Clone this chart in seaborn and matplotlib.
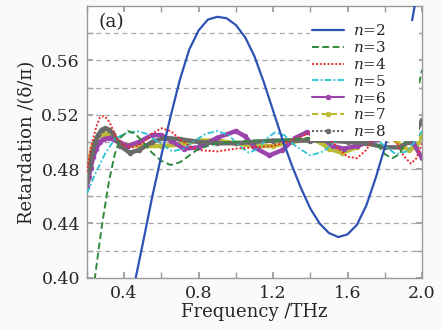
import numpy as np
import pandas as pd
import matplotlib
matplotlib.use("Agg")
import matplotlib.pyplot as plt
from matplotlib.lines import Line2D
import seaborn as sns

# ---------------- data ----------------
f2 = [0.40, 0.45, 0.50, 0.55, 0.60, 0.65, 0.70, 0.75, 0.80, 0.85, 0.90, 0.95, 1.00,
      1.05, 1.10, 1.15, 1.20, 1.25, 1.30, 1.35, 1.40, 1.45, 1.50, 1.55, 1.60, 1.65,
      1.70, 1.75, 1.80, 1.85, 1.90, 1.95, 2.00]
r2 = [0.360, 0.392, 0.425, 0.459, 0.490, 0.519, 0.546, 0.568, 0.582, 0.590, 0.592, 0.591, 0.586,
      0.577, 0.563, 0.544, 0.523, 0.502, 0.483, 0.466, 0.451, 0.440, 0.433, 0.430, 0.432, 0.439,
      0.453, 0.473, 0.496, 0.522, 0.555, 0.592, 0.630]

f3 = [0.20, 0.243, 0.28, 0.32, 0.35, 0.38, 0.42, 0.46, 0.50, 0.55, 0.60, 0.65, 0.70, 0.75,
      0.80, 0.90, 1.00, 1.10, 1.20, 1.30, 1.40, 1.50, 1.60, 1.65, 1.70, 1.75, 1.80, 1.84,
      1.88, 1.92, 1.95, 1.98, 2.00]
r3 = [0.355, 0.400, 0.438, 0.472, 0.491, 0.503, 0.508, 0.506, 0.500, 0.492, 0.486, 0.483, 0.485, 0.490,
      0.495, 0.499, 0.500, 0.501, 0.501, 0.502, 0.503, 0.507, 0.511, 0.512, 0.509, 0.500, 0.491, 0.488,
      0.491, 0.503, 0.519, 0.540, 0.553]

f4 = [0.20, 0.22, 0.25, 0.27, 0.29, 0.31, 0.33, 0.36, 0.40, 0.45, 0.50, 0.55, 0.60, 0.65, 0.70,
      0.75, 0.80, 0.90, 1.00, 1.10, 1.20, 1.30, 1.40, 1.45, 1.50, 1.55, 1.60, 1.65, 1.70,
      1.75, 1.80, 1.85, 1.90, 1.94, 1.97, 2.00]
r4 = [0.478, 0.495, 0.511, 0.518, 0.519, 0.517, 0.512, 0.503, 0.497, 0.496, 0.499, 0.506, 0.510, 0.508, 0.502,
      0.497, 0.494, 0.493, 0.495, 0.496, 0.497, 0.501, 0.507, 0.507, 0.503, 0.495, 0.489, 0.488, 0.494,
      0.505, 0.510, 0.503, 0.490, 0.484, 0.488, 0.499]

f5 = [0.20, 0.25, 0.30, 0.35, 0.40, 0.47, 0.52, 0.58, 0.66, 0.72, 0.78, 0.84, 0.90, 0.96,
      1.02, 1.07, 1.12, 1.17, 1.21, 1.26, 1.32, 1.40, 1.47, 1.54, 1.60, 1.67, 1.73, 1.79,
      1.86, 1.92, 1.96, 2.00]
r5 = [0.462, 0.478, 0.492, 0.502, 0.506, 0.508, 0.506, 0.500, 0.493, 0.495, 0.501, 0.506, 0.508, 0.505,
      0.497, 0.492, 0.495, 0.503, 0.507, 0.505, 0.497, 0.490, 0.493, 0.501, 0.506, 0.508, 0.505, 0.498,
      0.491, 0.493, 0.500, 0.508]

f6 = [0.20, 0.21, 0.22, 0.235, 0.25, 0.27, 0.29, 0.32, 0.37, 0.42, 0.48, 0.55, 0.60, 0.65, 0.72,
      0.80, 0.90, 1.00, 1.05, 1.10, 1.18, 1.25, 1.32, 1.38, 1.45, 1.52, 1.58, 1.65, 1.72,
      1.80, 1.90, 1.95, 2.00]
r6 = [0.467, 0.474, 0.481, 0.489, 0.495, 0.500, 0.502, 0.503, 0.500, 0.497, 0.500, 0.505, 0.505, 0.501, 0.495,
      0.496, 0.503, 0.508, 0.504, 0.496, 0.490, 0.494, 0.503, 0.507, 0.504, 0.497, 0.495, 0.497, 0.500,
      0.503, 0.503, 0.500, 0.488]

f7 = [0.20, 0.215, 0.23, 0.25, 0.27, 0.30, 0.35, 0.40, 0.50, 0.60, 0.70, 0.80, 0.90, 1.00, 1.10,
      1.20, 1.30, 1.40, 1.45, 1.50, 1.57, 1.65, 1.72, 1.78, 1.84, 1.90, 1.93, 1.97, 2.00]
r7 = [0.478, 0.488, 0.496, 0.502, 0.505, 0.506, 0.502, 0.498, 0.497, 0.497, 0.498, 0.501, 0.501, 0.499,
      0.497, 0.497, 0.500, 0.502, 0.500, 0.495, 0.492, 0.496, 0.503, 0.507, 0.503, 0.496, 0.494, 0.497,
      0.505]

f8 = [0.20, 0.215, 0.23, 0.245, 0.26, 0.28, 0.30, 0.32, 0.34, 0.38, 0.43, 0.48, 0.55, 0.62, 0.70,
      0.80, 0.90, 1.00, 1.10, 1.20, 1.30, 1.40, 1.50, 1.60, 1.70, 1.80, 1.88, 1.93, 1.97, 2.00]
r8 = [0.471, 0.482, 0.492, 0.500, 0.505, 0.509, 0.510, 0.509, 0.506, 0.497, 0.492, 0.494, 0.500, 0.503,
      0.502, 0.500, 0.499, 0.499, 0.500, 0.501, 0.501, 0.501, 0.501, 0.500, 0.499, 0.496, 0.496, 0.500,
      0.508, 0.516]

labels = [r"$n$=2", r"$n$=3", r"$n$=4", r"$n$=5", r"$n$=6", r"$n$=7", r"$n$=8"]
x_ticks = [0.4, 0.8, 1.2, 1.6, 2.0]
y_ticks = [0.40, 0.44, 0.48, 0.52, 0.56]

# ---------------- styling ----------------
sns.set_theme(style="ticks")
plt.rcParams["font.family"] = ["DejaVu Serif"]
plt.rcParams["mathtext.fontset"] = "dejavuserif"

fig = plt.figure(figsize=(4.41, 3.30), dpi=100, facecolor="#fafafa")
ax = fig.add_axes([0.197, 0.158, 0.760, 0.824])
ax.set_facecolor("white")

c_blue = "#2d52b4"
c_green = "#2f8a3c"
c_red = "#f02a2a"
c_cyan = "#27c3d2"
c_purple = "#9a44ac"
c_yellow = "#bcbc34"
c_gray = "#6a6a6a"

thick = dict(lw=3.2, marker="o", ms=3.2, sort=False, estimator=None,
             solid_joinstyle="round", solid_capstyle="round")
sns.lineplot(x=f7, y=r7, ax=ax, color=c_yellow, mec=c_yellow, zorder=2, **thick)
sns.lineplot(x=f6, y=r6, ax=ax, color=c_purple, mec=c_purple, zorder=2.2, **thick)
sns.lineplot(x=f8, y=r8, ax=ax, color=c_gray, mec=c_gray, zorder=2.4, **thick)
sns.lineplot(x=f5, y=r5, ax=ax, color=c_cyan, lw=1.3, linestyle=(0, (3.5, 1.3, 1, 1.3)),
             sort=False, estimator=None, zorder=3)
sns.lineplot(x=f4, y=r4, ax=ax, color=c_red, lw=1.4, linestyle=(0, (1, 1)),
             sort=False, estimator=None, zorder=3.2)
sns.lineplot(x=f3, y=r3, ax=ax, color=c_green, lw=1.4, linestyle=(0, (3.5, 1.8)),
             sort=False, estimator=None, zorder=3.4)
sns.lineplot(x=f2, y=r2, ax=ax, color=c_blue, lw=1.6, sort=False, estimator=None, zorder=4)

ax.set_xlim(0.2, 2.0)
ax.set_ylim(0.40, 0.60)
ax.set_xticks(x_ticks)
ax.set_xticklabels([f"{t:.1f}" for t in x_ticks])
ax.set_xticks(np.arange(0.2, 2.01, 0.2), minor=True)
ax.set_yticks(y_ticks)
ax.set_yticklabels([f"{t:.2f}" for t in y_ticks])
ax.set_yticks(np.arange(0.42, 0.59, 0.04), minor=True)

for yg in np.arange(0.42, 0.595, 0.02):
    ax.axhline(yg, color="#a8a8a8", lw=0.9, ls=(0, (4, 3)), zorder=1)

ax.tick_params(axis="both", which="both", direction="in", top=True, right=True,
               color="#999999", labelsize=12.5, pad=5, length=4)
for s in ax.spines.values():
    s.set_color("#999999")
    s.set_linewidth(1.0)

ax.set_xlabel("Frequency /THz", fontsize=13, labelpad=1)
ax.set_ylabel("Retardation /(δ/π)", fontsize=13, labelpad=4)

ax.text(0.035, 0.975, "(a)", transform=ax.transAxes, fontsize=13.5, va="top", ha="left",
        zorder=10)

handles = [
    Line2D([], [], color=c_blue, lw=1.6),
    Line2D([], [], color=c_green, lw=1.4, ls=(0, (3.5, 1.8))),
    Line2D([], [], color=c_red, lw=1.4, ls=(0, (1, 1))),
    Line2D([], [], color=c_cyan, lw=1.3, ls=(0, (3.5, 1.3, 1, 1.3))),
    Line2D([], [], color=c_purple, lw=1.5, marker="o", ms=3, markevery=[1]),
    Line2D([], [], color=c_yellow, lw=1.5, ls=(0, (3, 1.5)), marker="o", ms=3, markevery=[1]),
    Line2D([], [], color=c_gray, lw=1.5, ls=(0, (1, 1)), marker="o", ms=3, markevery=[1]),
]
for h in handles[4:]:
    h.set_xdata([0, 0.5, 1])
leg = ax.legend(handles, labels, loc="upper left",
                bbox_to_anchor=(0.665, 0.945, 0.325, 0.0), mode="expand",
                frameon=True, fontsize=11, handlelength=2.1, handletextpad=0.6,
                labelspacing=0.12, borderaxespad=0.0, borderpad=0.15, fancybox=False)
leg.get_frame().set_facecolor("white")
leg.get_frame().set_edgecolor("none")
leg.get_frame().set_alpha(1.0)
leg.set_zorder(8)

fig.savefig("out.png", dpi=100, facecolor=fig.get_facecolor())
